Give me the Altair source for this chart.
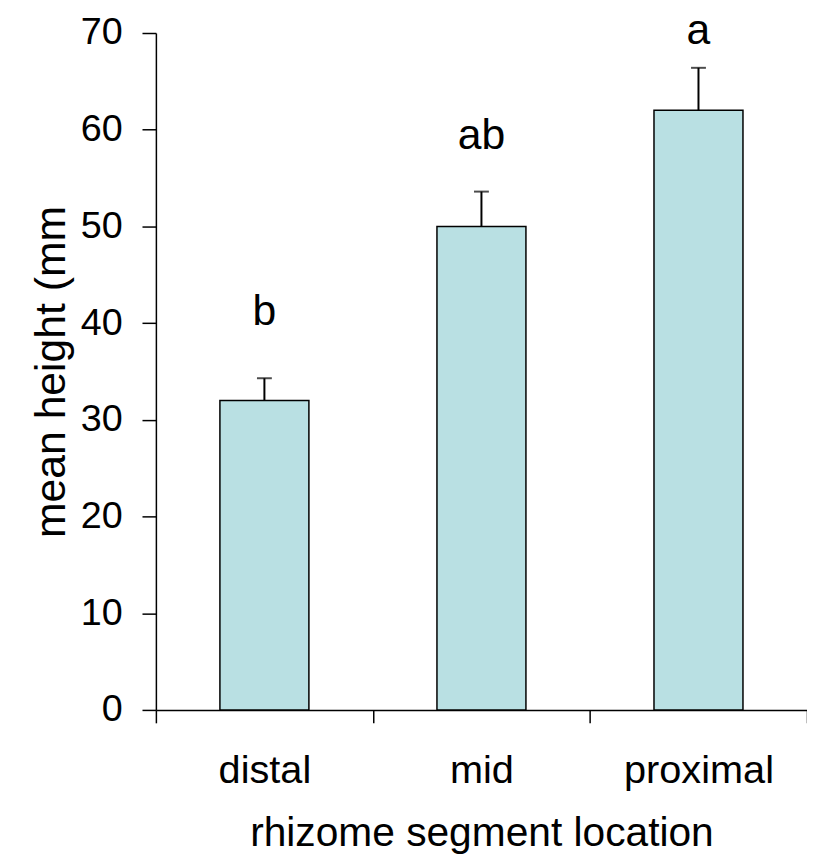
import altair as alt
import pandas as pd

categories = ["distal", "mid", "proximal"]
means = [32.0, 50.0, 62.0]
errors = [2.3, 3.6, 4.4]
letters = ["b", "ab", "a"]
letter_y = [39.8, 58.0, 68.9]

df = pd.DataFrame({
    "cat": categories,
    "mean": means,
    "top": [m + e for m, e in zip(means, errors)],
    "letter": letters,
    "ly": letter_y,
})

FONT = "Liberation Sans"

xscale = alt.Scale(domain=categories, paddingInner=0, paddingOuter=0)
yscale = alt.Scale(domain=[0, 70], nice=False)

xaxis = alt.Axis(title="rhizome segment location", labelAngle=0, grid=False,
                 tickBand="extent", tickSize=13, tickWidth=1.5,
                 domainWidth=1.5, domainColor="black", tickColor="black",
                 labelFontSize=40, titleFontSize=41, labelPadding=28,
                 titlePadding=24, labelColor="black", titleColor="black",
                 labelFont=FONT, titleFont=FONT, titleFontWeight="normal")
yaxis = alt.Axis(title="mean height (mm", values=list(range(0, 71, 10)), grid=False,
                 tickSize=14, tickWidth=1.5, domainWidth=1.5,
                 domainColor="black", tickColor="black",
                 labelFontSize=38, titleFontSize=43, labelPadding=20,
                 titlePadding=7, labelColor="black", titleColor="black",
                 labelFont=FONT, titleFont=FONT, titleFontWeight="normal")

xenc = alt.X("cat:N", scale=xscale, sort=categories, axis=xaxis)
yenc_mean = alt.Y("mean:Q", scale=yscale, axis=yaxis)

bars = alt.Chart(df).mark_bar(color="#B9E0E3", stroke="black", strokeWidth=1.5,
                              width=alt.RelativeBandSize(0.41)).encode(
    x=xenc,
    y=yenc_mean,
)

err = alt.Chart(df).mark_rule(color="black", strokeWidth=2).encode(
    x=xenc,
    y=yenc_mean,
    y2="top:Q",
)

caps = alt.Chart(df).mark_tick(color="black", thickness=2, size=15, orient="horizontal").encode(
    x=xenc,
    y=alt.Y("top:Q", scale=yscale, axis=yaxis),
)

text = alt.Chart(df).mark_text(fontSize=43, font=FONT, color="black", baseline="alphabetic").encode(
    x=xenc,
    y=alt.Y("ly:Q", scale=yscale, axis=yaxis),
    text="letter:N",
)

chart = alt.layer(bars, err, caps, text).properties(
    width=656, height=682,
    background="white",
    autosize=alt.AutoSizeParams(type="none"),
    padding={"left": 149, "top": 22, "right": 0, "bottom": 147},
).configure_view(strokeWidth=0, stroke="transparent").configure_axis(grid=False)

chart.save("out.html", embed_options={"renderer": "svg", "actions": False})
